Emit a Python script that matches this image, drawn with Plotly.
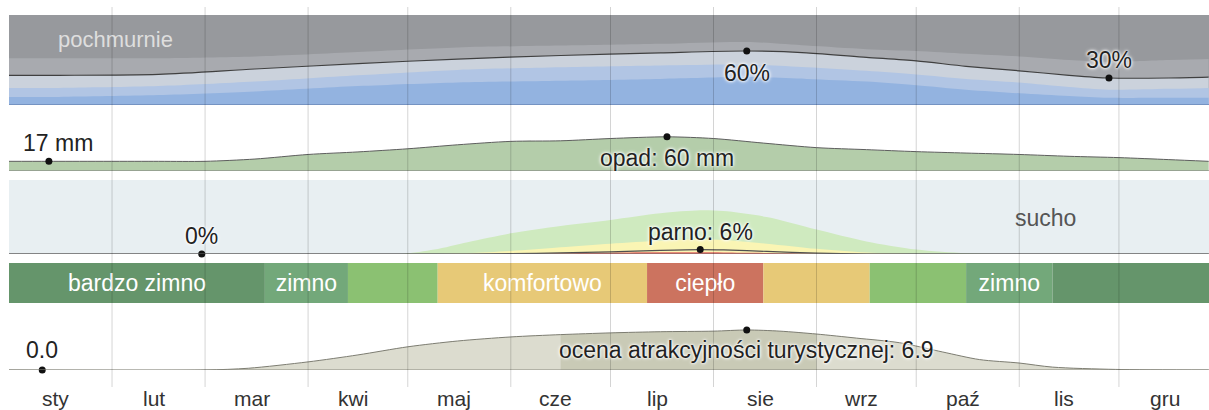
import numpy as np
import plotly.graph_objects as go

W, H = 1209, 410
FONT = "Liberation Sans, Arial, sans-serif"

# --- dane -------------------------------------------------------------
months = ["sty", "lut", "mar", "kwi", "maj", "cze", "lip", "sie", "wrz", "paź", "lis", "gru"]
month_start = [0, 31, 59, 90, 120, 151, 181, 212, 243, 273, 304, 334]
month_len = [31, 28, 31, 30, 31, 30, 31, 31, 30, 31, 30, 31]

# zachmurzenie: skumulowany % czasu (od dołu)
cloud_days = [0, 15, 45, 74, 105, 135, 166, 196, 222, 240, 258, 273, 288, 304, 319, 331, 349, 361]
cloud_clear = [9, 9, 11, 15, 21, 25, 27, 29, 31, 29, 26, 22, 17, 13, 10, 8, 8, 8]
cloud_mostly_clear = [19, 19, 21, 26, 33, 39, 42, 44, 45, 42, 38, 34, 29, 25, 20, 17, 18, 19]
cloud_partly = [33, 33, 34, 40, 46, 51, 55, 58, 60, 58, 53, 49, 43, 38, 33, 30, 30, 31]
cloud_mostly_cloudy = [52, 52, 52, 54, 59, 64, 66, 68, 70, 66, 62, 60, 57, 54, 50, 48, 50, 51]

# opady (mm)
rain_days = [0, 12, 45, 59, 74, 90, 105, 120, 135, 151, 166, 181, 198, 212, 227, 243,
             258, 273, 288, 304, 319, 334, 349, 361]
rain_mm = [17, 17, 17, 17, 21, 29, 33.5, 39, 46, 52, 53, 57, 60, 57, 49, 41,
           37.5, 34, 31.5, 29, 25.8, 23.5, 20, 17]

# wilgotność: skumulowany % czasu
hum_days = [0, 58, 118, 128, 138, 151, 166, 181, 196, 208, 215, 228, 243, 258, 273, 288, 300, 361]
hum_comfortable = [0, 0, 0, 6, 16, 28, 38, 46, 55, 59, 58, 50, 33, 17, 6, 1, 0, 0]
hum_humid = [0, 0, 0, 0, 1, 4, 9, 14, 18, 20, 19, 14, 7, 2, 0, 0, 0, 0]
hum_oppressive = [0, 0, 0, 0, 0, 0, 1, 1.8, 2.2, 2.2, 2, 1.4, 0.5, 0, 0, 0, 0, 0]
hum_muggy = [0, 0, 0, 0, 0, 0.5, 1.5, 3, 5, 6, 5.5, 3.5, 1.2, 0, 0, 0, 0, 0]

# pasek temperatury
temp_start = [0, 77, 102, 129, 192, 227, 259, 288, 314]
temp_end = [77, 102, 129, 192, 227, 259, 288, 314, 365]
temp_labels = ["bardzo zimno", "zimno", "", "komfortowo", "ciepło", "", "", "zimno", ""]
temp_colors = ["#65956b", "#73a87a", "#8bc172", "#e7c977", "#cc735f",
               "#e7c977", "#8bc172", "#73a87a", "#65956b"]

# ocena turystyczna
tour_days = [0, 59, 72, 90, 105, 120, 135, 151, 166, 181, 196, 212, 222, 232, 243,
             255, 268, 281, 292, 304, 314, 333, 361]
tour_score = [0, 0, 0.3, 1.4, 2.6, 4.0, 5.0, 5.7, 6.1, 6.4, 6.6, 6.7, 6.9, 6.7, 6.2,
              5.5, 4.7, 3.1, 1.8, 1.2, 0.5, 0.1, 0]
tour_best = (166, 243)


def dom(top, bottom):
    return [1 - bottom / H, 1 - top / H]


def py(p):
    return 1 - p / H


def area(x, y, ax, color):
    return go.Scatter(x=x, y=y, yaxis=ax, mode="lines", fill="tozeroy", fillcolor=color,
                      line=dict(width=0, shape="spline", smoothing=0.8), hoverinfo="skip")


def curve(x, y, ax, color, width=1.2):
    return go.Scatter(x=x, y=y, yaxis=ax, mode="lines",
                      line=dict(color=color, width=width, shape="spline", smoothing=0.8),
                      hoverinfo="skip")


def dots(x, y, ax):
    return go.Scatter(x=x, y=y, yaxis=ax, mode="markers", cliponaxis=False,
                      marker=dict(color="#111", size=7), hoverinfo="skip")


fig = go.Figure()

# zachmurzenie
for vals, col in [(cloud_mostly_cloudy, "#a8aaaf"), (cloud_partly, "#cbd2dc"),
                  (cloud_mostly_clear, "#b1c5e4"), (cloud_clear, "#93b3e0")]:
    fig.add_trace(area(cloud_days, vals, "y", col))
fig.add_trace(curve(cloud_days, cloud_partly, "y", "#404040"))
i_hi, i_lo = int(np.argmax(cloud_partly)), int(np.argmin(cloud_partly))
fig.add_trace(dots([cloud_days[i_hi], cloud_days[i_lo]],
                   [cloud_partly[i_hi], cloud_partly[i_lo]], "y"))

# opady
fig.add_trace(area(rain_days, rain_mm, "y2", "#b4cdaa"))
fig.add_trace(curve(rain_days, rain_mm, "y2", "#5e5e5e", 1))
r_hi = int(np.argmax(rain_mm))
fig.add_trace(dots([rain_days[1], rain_days[r_hi]], [rain_mm[1], rain_mm[r_hi]], "y2"))

# wilgotność
for vals, col in [(hum_comfortable, "#cfeabf"), (hum_humid, "#faf5b4"),
                  (hum_oppressive, "#e46a64")]:
    fig.add_trace(area(hum_days, vals, "y3", col))
fig.add_trace(curve(hum_days, hum_muggy, "y3", "#505050"))
m_hi = int(np.argmax(hum_muggy))
fig.add_trace(dots([hum_days[1], hum_days[m_hi]], [hum_muggy[1], hum_muggy[m_hi]], "y3"))

# temperatura
fig.add_trace(go.Bar(
    x=np.subtract(temp_end, temp_start), base=temp_start, y=[0] * len(temp_start),
    orientation="h", width=1, yaxis="y4",
    marker=dict(color=temp_colors, line=dict(width=0)),
    text=temp_labels, textposition="inside", insidetextanchor="middle",
    constraintext="none", textangle=0,
    textfont=dict(color="white", size=23, family=FONT), hoverinfo="skip",
))

# ocena turystyczna
fig.add_trace(area(tour_days, tour_score, "y5", "#dcdccf"))
b0, b1 = tour_days.index(tour_best[0]), tour_days.index(tour_best[1]) + 1
fig.add_trace(area(tour_days[b0:b1], tour_score[b0:b1], "y5", "#c9cab6"))
fig.add_trace(curve(tour_days, tour_score, "y5", "#7d7d72", 1))
t_hi = int(np.argmax(tour_score))
fig.add_trace(dots([10, tour_days[t_hi]], [0, tour_score[t_hi]], "y5"))

# tła i linie
shapes = [
    dict(type="rect", xref="paper", yref="y domain", x0=0, x1=1, y0=0, y1=1,
         fillcolor="#97999d", line_width=0, layer="below"),
    dict(type="rect", xref="paper", yref="y3 domain", x0=0, x1=1, y0=0, y1=1,
         fillcolor="#e8eff2", line_width=0, layer="below"),
]
for ax, col, w in [("y", "#6b88b8", 1.5), ("y2", "#7a7a7a", 1.2),
                   ("y3", "#6a6a6a", 1.2), ("y5", "#8a8a80", 1.2)]:
    shapes.append(dict(type="line", xref="paper", yref=ax, x0=0, x1=1, y0=0, y1=0,
                       line=dict(color=col, width=w), layer="above"))
for d in month_start[1:]:
    shapes.append(dict(type="line", xref="x", yref="paper", x0=d, x1=d,
                       y0=py(387), y1=py(7),
                       line=dict(color="rgba(0,0,0,0.17)", width=1), layer="above"))

halo = "0 0 2px #fff, 0 0 3px #fff, 0 0 4px #fff"


def label(text, x, ypix, color="#222", shadow=halo, size=23):
    return dict(text=text, x=x, xref="x", y=py(ypix), yref="paper", showarrow=False,
                xanchor="center", yanchor="middle",
                font=dict(family=FONT, size=size, color=color, shadow=shadow))


ann = [
    label("pochmurnie", 32, 40, color="#dedede", shadow="none", size=22),
    label(f"{cloud_partly[i_hi]:.0f}%", cloud_days[i_hi], 73),
    label(f"{cloud_partly[i_lo]:.0f}%", cloud_days[i_lo], 60),
    label(f"{rain_mm[1]:.0f} mm", 14.7, 143),
    label(f"opad: {rain_mm[r_hi]:.0f} mm", rain_days[r_hi], 158),
    label(f"{hum_muggy[1]:.0f}%", hum_days[1], 236),
    label(f"parno: {hum_muggy[m_hi]:.0f}%", hum_days[m_hi], 232),
    label("sucho", 312, 218, color="#555", shadow="none"),
    label(f"{tour_score[0]:.1f}", 10, 350),
    label(f"ocena atrakcyjności turystycznej: {tour_score[t_hi]:.1f}", tour_days[t_hi], 350),
]
for m, s, n in zip(months, month_start, month_len):
    ann.append(label(m, s + n / 2 - 1.5, 398, color="#333", shadow="none", size=21))

hidden = dict(visible=False, fixedrange=True, anchor="x")
fig.update_layout(
    width=W, height=H,
    margin=dict(l=9, r=0, t=0, b=0),
    paper_bgcolor="white", plot_bgcolor="rgba(0,0,0,0)",
    showlegend=False, barmode="overlay",
    font=dict(family=FONT, size=23, color="#222"),
    xaxis=dict(range=[0, 361.1], visible=False, fixedrange=True),
    yaxis=dict(domain=dom(15, 105), range=[0, 100], **hidden),
    yaxis2=dict(domain=dom(115, 171), range=[0, 98.3], **hidden),
    yaxis3=dict(domain=dom(180, 254), range=[0, 100], **hidden),
    yaxis4=dict(domain=dom(263, 303), range=[-0.5, 0.5], **hidden),
    yaxis5=dict(domain=dom(312, 370), range=[0, 10], **hidden),
    shapes=shapes,
    annotations=ann,
)

fig.write_html("out.html", config={"displayModeBar": False},
               post_script="document.body.style.margin='0';")
